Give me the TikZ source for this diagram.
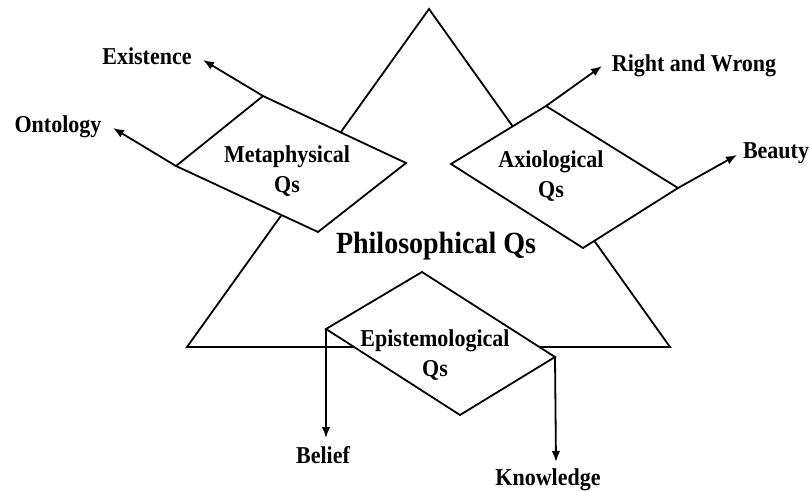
\documentclass[tikz,border=0pt]{standalone}
\usepackage{fontspec}
\setmainfont{Liberation Serif}
\usetikzlibrary{arrows.meta}
\newcommand{\tallt}[1]{\scalebox{1}[1.1]{#1}}
\begin{document}
\begin{tikzpicture}[x=1pt,y=-1pt,
  edge/.style={line width=1.8pt, line join=miter},
  pgram/.style={edge, fill=white},
  arr/.style={line width=1.8pt, -{Latex[length=11pt,width=8.5pt]}},
  lbl/.style={font=\fontsize{22}{24}\selectfont\bfseries, inner sep=0pt, anchor=center},
  inlbl/.style={font=\fontsize{22}{30}\selectfont\bfseries, inner sep=0pt, align=center},
  title/.style={font=\fontsize{28}{30}\selectfont\bfseries, inner sep=0pt}]
\useasboundingbox (0,0) rectangle (812,492);
% triangle
\coordinate (TA) at (429,9);
\coordinate (TB) at (187,347);
\coordinate (TC) at (670,347);
\draw[edge] (TA) -- (TB) -- (TC) -- cycle;
% metaphysical parallelogram
\coordinate (M1) at (263,96);
\coordinate (M2) at (406,163);
\coordinate (M3) at (318,232);
\coordinate (M4) at (176,166);
\draw[pgram] (M1) -- (M2) -- (M3) -- (M4) -- cycle;
% axiological parallelogram
\coordinate (A1) at (451,164);
\coordinate (A2) at (546,106);
\coordinate (A3) at (678,188);
\coordinate (A4) at (583,248);
\draw[pgram] (A1) -- (A2) -- (A3) -- (A4) -- cycle;
% epistemological parallelogram
\coordinate (E1) at (422,272);
\coordinate (E2) at (555,357);
\coordinate (E3) at (460,415);
\coordinate (E4) at (326,329);
\draw[pgram] (E1) -- (E2) -- (E3) -- (E4) -- cycle;
% inner labels
\node[inlbl] (meta) at (287,171) {\tallt{Metaphysical}\\\tallt{Qs}};
\node[inlbl] (axio) at (551,176) {\tallt{Axiological}\\\tallt{Qs}};
\node[inlbl] (epis) at (435,355) {\tallt{Epistemological}\\\tallt{Qs}};
\node[title] (phil) at (436,246) {\tallt{Philosophical Qs}};
% outer labels
\node[lbl] (exist) at (147,56) {\tallt{Existence}};
\node[lbl] (onto) at (58,127) {\tallt{Ontology}};
\node[lbl] (right) at (694,66) {\tallt{Right and Wrong}};
\node[lbl] (beauty) at (776,153) {\tallt{Beauty}};
\node[lbl] (belief) at (323,455) {\tallt{Belief}};
\node[lbl] (know) at (548,480) {\tallt{Knowledge}};
% arrow tips
\coordinate (existtip) at (203,60);
\coordinate (ontotip) at (113,128);
\coordinate (righttip) at (602,66);
\coordinate (beautytip) at (737,155);
\coordinate (belieftip) at (326,438);
\coordinate (knowtip) at (556,462);
\draw[arr] (M1) -- (existtip);
\draw[arr] (M4) -- (ontotip);
\draw[arr] (A2) -- (righttip);
\draw[arr] (A3) -- (beautytip);
\draw[arr] (E4) -- (belieftip);
\draw[arr] (E2) -- (knowtip);
\end{tikzpicture}
\end{document}
